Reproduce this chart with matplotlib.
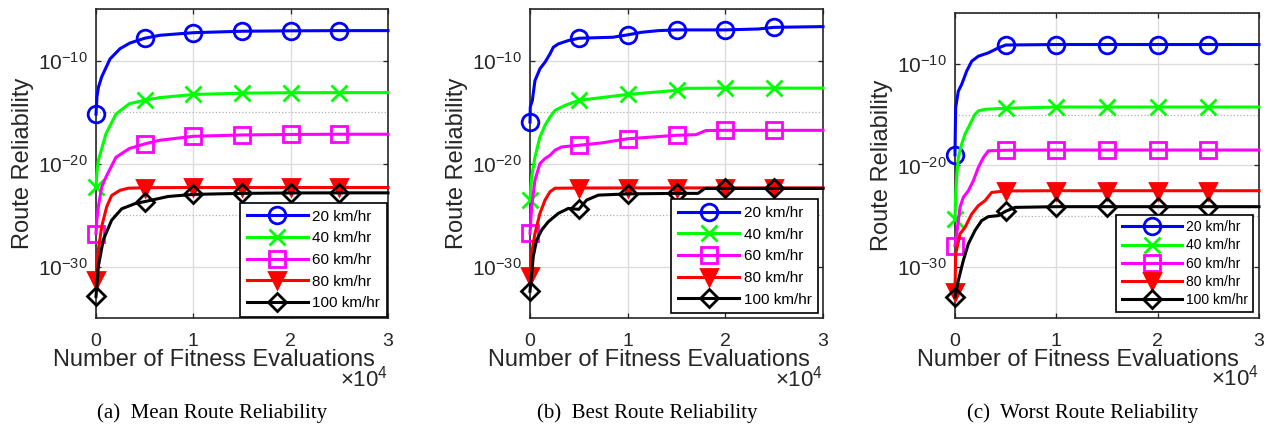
import numpy as np
import matplotlib
matplotlib.use("Agg")
import matplotlib.pyplot as plt
from matplotlib.ticker import FixedLocator, FuncFormatter, NullFormatter

plt.rcParams['font.family'] = ['Liberation Sans', 'DejaVu Sans']
plt.rcParams['mathtext.fontset'] = 'custom'
plt.rcParams['mathtext.rm'] = 'Liberation Sans'
plt.rcParams['mathtext.it'] = 'Liberation Sans:italic'
plt.rcParams['mathtext.bf'] = 'Liberation Sans:bold'

# leyenda y estilos
speeds = ['20 km/hr', '40 km/hr', '60 km/hr', '80 km/hr', '100 km/hr']
colors = ['#0000ff', '#00ff00', '#ff00ff', '#ff0000', '#000000']
markers = ['o', 'x', 's', 'v', 'D']
captions = ['(a)  Mean Route Reliability', '(b)  Best Route Reliability',
            '(c)  Worst Route Reliability']

# datos (exponente log10 de la confiabilidad)
# (a) media
mean_x_20 = [0, 100, 250, 580, 1440, 2470, 3490, 5000, 6570, 10000, 15000, 20000, 25000, 30000]
mean_y_20 = [-15.2, -13.5, -12.6, -11.6, -9.85, -8.85, -8.3, -7.84, -7.55, -7.3, -7.16, -7.12, -7.1, -7.1]
mean_x_40 = [0, 80, 240, 1030, 2050, 3420, 5000, 6570, 10000, 15000, 20000, 25000, 30000]
mean_y_40 = [-22.3, -21.0, -19.7, -17.1, -15.2, -14.2, -13.85, -13.6, -13.3, -13.17, -13.13, -13.12, -13.12]
mean_x_60 = [0, 80, 240, 580, 1030, 2050, 3420, 5000, 6570, 10000, 15000, 20000, 25000, 30000]
mean_y_60 = [-26.8, -25.5, -24.2, -22.3, -21.3, -19.4, -18.55, -18.1, -17.74, -17.36, -17.23, -17.18, -17.16, -17.16]
mean_x_80 = [0, 120, 240, 590, 1100, 1610, 2470, 3320, 5000, 10000, 15000, 20000, 25000, 30000]
mean_y_80 = [-31.3, -29.5, -28.4, -26.1, -24.2, -23.1, -22.6, -22.4, -22.35, -22.33, -22.33, -22.33, -22.33, -22.33]
mean_x_100 = [0, 240, 750, 1610, 2640, 4000, 5000, 7430, 10000, 15000, 20000, 25000, 30000]
mean_y_100 = [-32.9, -30.0, -27.4, -25.5, -24.4, -23.9, -23.7, -23.2, -23.0, -22.9, -22.86, -22.85, -22.85]

# (b) mejor
best_x_20 = [0, 30, 240, 510, 1020, 1540, 2050, 2390, 2900, 3930, 5000, 8500, 10000, 11430, 13140, 15000, 20000, 23380, 25000, 30000]
best_y_20 = [-15.97, -14.5, -13.87, -11.94, -10.8, -10.16, -9.35, -8.71, -8.39, -8.06, -7.84, -7.74, -7.51, -7.26, -7.1, -7.03, -7.03, -6.94, -6.78, -6.71]
best_x_40 = [0, 170, 510, 1020, 1540, 2050, 2560, 3580, 5000, 7340, 10000, 15000, 16000, 20000, 25000, 30000]
best_y_40 = [-23.5, -21.3, -19.36, -17.42, -16.29, -15.49, -14.84, -14.36, -13.87, -13.6, -13.29, -12.9, -12.7, -12.68, -12.68, -12.68]
best_x_60 = [0, 170, 510, 1020, 1540, 2050, 2560, 3240, 5000, 7340, 10000, 15000, 17000, 18000, 20000, 25000, 30000]
best_y_60 = [-26.78, -24.2, -21.6, -20.0, -19.52, -19.2, -18.71, -18.39, -18.23, -18.0, -17.6, -17.26, -17.2, -16.8, -16.78, -16.78, -16.78]
best_x_80 = [0, 170, 510, 1020, 1540, 2050, 2560, 5000, 10000, 15000, 20000, 25000, 30000]
best_y_80 = [-30.97, -28.7, -26.78, -24.84, -23.55, -22.74, -22.4, -22.38, -22.37, -22.37, -22.37, -22.37, -22.37]
best_x_100 = [0, 340, 680, 1200, 1880, 2900, 3930, 5000, 5800, 7000, 10000, 15000, 17200, 17900, 20000, 25000, 30000]
best_y_100 = [-32.4, -29.0, -27.42, -26.45, -25.65, -24.84, -24.36, -24.45, -23.55, -23.07, -22.95, -22.9, -22.9, -22.42, -22.42, -22.42, -22.42]

# (c) peor
worst_x_20 = [0, 30, 66, 330, 660, 1150, 1650, 2300, 3290, 4280, 5000, 10000, 15000, 20000, 25000, 30000]
worst_y_20 = [-18.95, -16.5, -14.3, -12.68, -12.02, -10.72, -9.74, -9.25, -8.92, -8.43, -8.15, -8.1, -8.1, -8.1, -8.1, -8.1]
worst_x_40 = [0, 60, 164, 330, 660, 990, 1480, 1970, 2300, 2960, 5000, 10000, 15000, 20000, 25000, 30000]
worst_y_40 = [-25.26, -23.0, -21.18, -19.22, -17.9, -16.92, -15.94, -14.96, -14.64, -14.47, -14.37, -14.25, -14.25, -14.25, -14.25, -14.25]
worst_x_60 = [0, 164, 490, 820, 1320, 1810, 2300, 2800, 3290, 5000, 10000, 15000, 20000, 25000, 30000]
worst_y_60 = [-27.87, -26.73, -24.12, -23.14, -22.48, -21.5, -20.2, -19.22, -18.56, -18.5, -18.48, -18.48, -18.48, -18.48, -18.48]
worst_x_80 = [0, 66, 490, 990, 1650, 2300, 2960, 3620, 5000, 10000, 15000, 20000, 25000, 30000]
worst_y_80 = [-32.45, -28.7, -26.73, -26.08, -24.77, -23.95, -23.46, -22.65, -22.5, -22.48, -22.48, -22.48, -22.48, -22.48]
worst_x_100 = [0, 330, 820, 1320, 1970, 2630, 3290, 4280, 5000, 5920, 10000, 15000, 20000, 25000, 30000]
worst_y_100 = [-32.94, -31.3, -29.34, -27.7, -26.4, -25.42, -25.03, -24.93, -24.5, -24.12, -24.05, -24.05, -24.05, -24.05, -24.05]

paneles = [
    ([mean_x_20, mean_x_40, mean_x_60, mean_x_80, mean_x_100],
     [mean_y_20, mean_y_40, mean_y_60, mean_y_80, mean_y_100]),
    ([best_x_20, best_x_40, best_x_60, best_x_80, best_x_100],
     [best_y_20, best_y_40, best_y_60, best_y_80, best_y_100]),
    ([worst_x_20, worst_x_40, worst_x_60, worst_x_80, worst_x_100],
     [worst_y_20, worst_y_40, worst_y_60, worst_y_80, worst_y_100]),
]

W, H = 1275, 428
fig = plt.figure(figsize=(W / 100, H / 100), dpi=100)

# posiciones de los ejes en pixeles: izquierda, arriba, derecha, abajo
cajas = [(96, 9, 388, 318), (530, 9, 823, 318), (955, 13, 1259, 318)]
cap_x = [212, 647, 1083]
leg_fs = [11, 11, 10]
leg_hl = [4.0, 4.0, 4.3]
leg_ls = [0.5, 0.5, 0.3]
leg_bp = [0.45, 0.45, 0.4]
leg_pad = [0.05, 0.3, 0.4]

gris = '#262626'

for k, (xs, ys) in enumerate(paneles):
    l, t, r, b = cajas[k]
    ax = fig.add_axes([l / W, 1 - b / H, (r - l) / W, (b - t) / H])
    for i in range(5):
        x = np.array(xs[i], dtype=float)
        y = 10.0 ** np.array(ys[i])
        idx = [j for j, v in enumerate(xs[i]) if v % 5000 == 0 and v < 30000]
        fc = colors[i] if markers[i] == 'v' else 'none'
        ms = {'o': 12, 'x': 12, 's': 12, 'v': 11, 'D': 9}[markers[i]]
        ax.plot(x, y, color=colors[i], lw=2.2, marker=markers[i], ms=ms,
                mew=2.0, mfc=fc, mec=colors[i], markevery=idx,
                label=speeds[i], clip_on=False, zorder=3 + i)

    ax.set_yscale('log')
    ax.set_xlim(0, 30000)
    ax.set_ylim(1e-35, 1e-5)
    ax.xaxis.set_major_locator(FixedLocator([0, 10000, 20000, 30000]))
    ax.xaxis.set_major_formatter(FuncFormatter(lambda v, p: '%g' % (v / 1e4)))
    ax.yaxis.set_major_locator(FixedLocator([1e-30, 1e-20, 1e-10]))
    ax.yaxis.set_major_formatter(FuncFormatter(
        lambda v, p: r'$10^{%d}$' % int(round(np.log10(v)))))
    ax.yaxis.set_minor_locator(FixedLocator([1e-35, 1e-25, 1e-15, 1e-5]))
    ax.yaxis.set_minor_formatter(NullFormatter())

    ax.grid(True, which='major', color='#dcdcdc', lw=1.0, ls='-')
    ax.grid(True, which='minor', axis='y', color='#b0b0b0', lw=0.9, ls=':')
    ax.set_axisbelow(True)

    ax.tick_params(which='major', direction='in', length=3.5, width=0.9,
                   top=True, right=True, colors=gris)
    ax.tick_params(axis='x', pad=11, labelsize=14)
    ax.tick_params(axis='y', pad=6, labelsize=15)
    ax.tick_params(which='minor', length=0)
    for s in ax.spines.values():
        s.set_color(gris)
        s.set_linewidth(1.2)

    ax.set_xlabel('Number of Fitness Evaluations', fontsize=17, color=gris,
                  labelpad=-1, x=0.405)
    ax.set_ylabel('Route Reliability', fontsize=17, color=gris, labelpad=3)
    ax.text(1.0, -0.222, r'$\times10^{4}$', transform=ax.transAxes,
            ha='right', va='baseline', fontsize=16, color=gris)

    leg = ax.legend(loc='lower right', fontsize=leg_fs[k], numpoints=1,
                    handlelength=leg_hl[k], handletextpad=0.3,
                    labelspacing=leg_ls[k], borderpad=leg_bp[k],
                    borderaxespad=leg_pad[k],
                    fancybox=False, framealpha=1, edgecolor='black')
    leg.get_frame().set_linewidth(1.2)
    leg.set_zorder(20)

    fig.text(cap_x[k] / W, 1 - 413 / H, captions[k], ha='center', va='center',
             fontsize=15, family='Liberation Serif', color='black')

plt.savefig('out.png', dpi=100)
